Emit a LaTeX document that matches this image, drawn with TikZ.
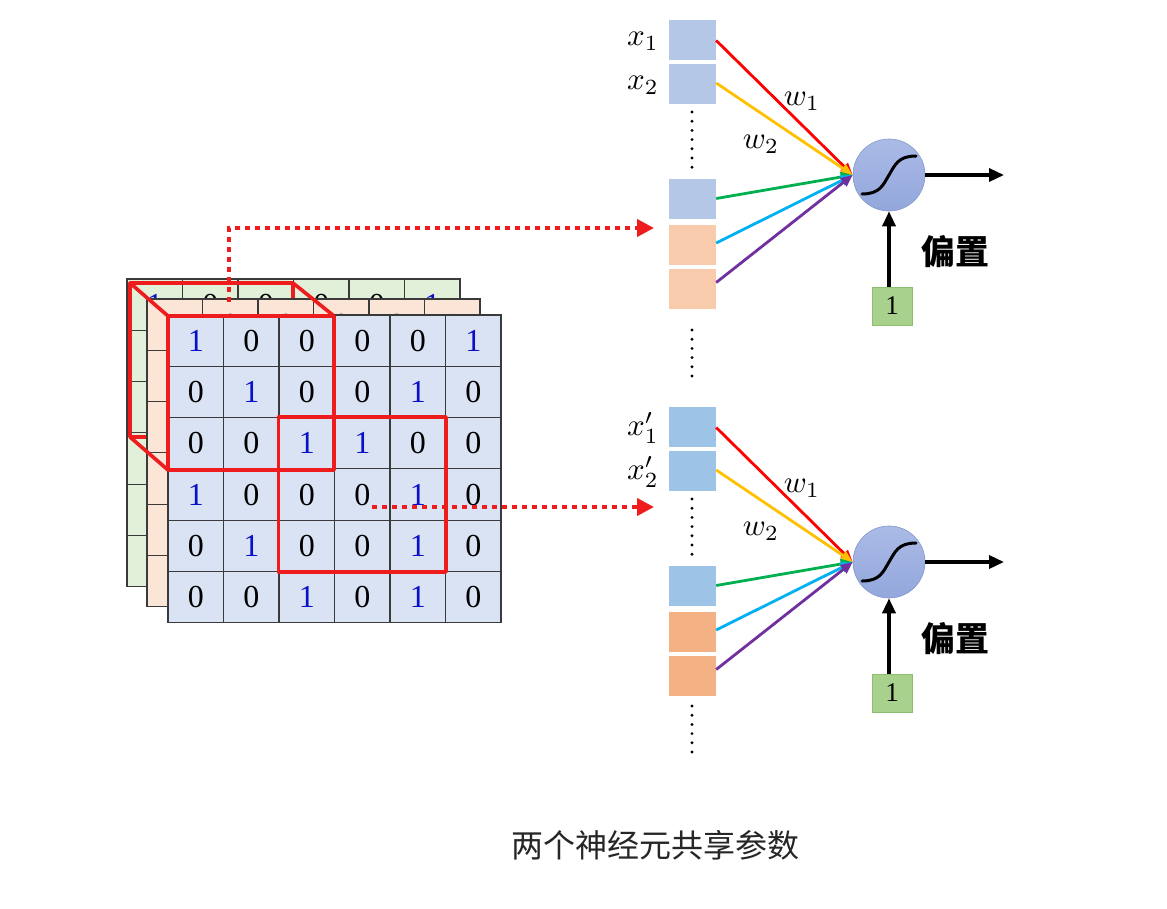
\documentclass[tikz,border=0pt]{standalone}
\usepackage{graphicx}
\usepackage[no-math]{fontspec}
\setmainfont{Liberation Serif}
\newfontfamily\cjk{Noto Sans CJK SC}
\usetikzlibrary{arrows.meta,calc}
\definecolor{gfront}{HTML}{DAE3F3}
\definecolor{gorange}{HTML}{FBE5D6}
\definecolor{ggreen}{HTML}{E2F0D9}
\definecolor{gline}{HTML}{3A3A3A}
\definecolor{dblue}{HTML}{0A10C8}
\definecolor{redline}{HTML}{EE1C1C}
\definecolor{boxblueA}{HTML}{B4C7E7}
\definecolor{boxorangeA}{HTML}{F8CBAD}
\definecolor{boxblueB}{HTML}{9DC3E6}
\definecolor{boxorangeB}{HTML}{F4B183}
\definecolor{cred}{HTML}{FF0000}
\definecolor{cyellow}{HTML}{FFC000}
\definecolor{cgreen}{HTML}{00B050}
\definecolor{ccyan}{HTML}{00B0F0}
\definecolor{cpurple}{HTML}{7030A0}
\definecolor{biasfill}{HTML}{A9D18E}
\definecolor{biasline}{HTML}{8DBE6E}
\definecolor{ntop}{HTML}{ABBBE7}
\definecolor{nbot}{HTML}{93A7DC}
\definecolor{nline}{HTML}{8396CC}
\definecolor{captxt}{HTML}{262626}
\newcommand\dg[1]{\ifnum#1=1 \textcolor{dblue}{1}\else 0\fi}
\newcommand\lbl[1]{\scalebox{3.1}{$#1$}}
\newcommand\gridlayer[4]{%
  \foreach \row [count=\i from 0] in {{1,0,0,0,0,1},{0,1,0,0,1,0},{0,0,1,1,0,0},{1,0,0,0,1,0},{0,1,0,0,1,0},{0,0,1,0,1,0}}{%
    \foreach \v [count=\j from 0] in \row {%
      \node[cell, fill=#4] (#1-\i-\j) at ({#2+\j*55.5+27.75},{#3+\i*51.3+25.65}) {\dg{\v}};
    }
  }%
}
\newcommand\neurongroup[5]{% #1 name, #2 y offset, #3 blue, #4 orange, #5 prime
  \begin{scope}[yshift={-#2pt}]
    \node[inbox, fill=#3] (#1a) at (692.5,39.5) {};
    \node[inbox, fill=#3] (#1b) at (692.5,84) {};
    \node[inbox, fill=#3] (#1c) at (692.5,198.5) {};
    \node[inbox, fill=#4] (#1d) at (692.5,245) {};
    \node[inbox, fill=#4] (#1e) at (692.5,288.5) {};
    \coordinate (#1p) at (692,112);
    \coordinate (#1q) at (692,169);
    \draw[vdots] (#1p) -- (#1q);
    \node[lab] (#1xa) at (643,41) {\lbl{x#5_1}};
    \node[lab] (#1xb) at (643,85) {\lbl{x#5_2}};
    \node[neuron] (#1n) at (889,175) {};
    \draw[line width=3, line cap=round] ($(#1n)+(-27,19)$) .. controls ($(#1n)+(-9,19)$) and ($(#1n)+(-6,10)$) .. ($(#1n)+(0,0)$) .. controls ($(#1n)+(6,-10)$) and ($(#1n)+(9,-19)$) .. ($(#1n)+(27,-19)$);
    \draw[wire, cred] ($(#1a.east)+(0,1)$) -- (#1n.west);
    \draw[wire, cyellow] ($(#1b.east)+(0,-1)$) -- (#1n.west);
    \draw[wire, cgreen] (#1c.east) -- (#1n.west);
    \draw[wire, ccyan] ($(#1d.east)+(0,-2)$) -- (#1n.west);
    \draw[wire, cpurple] ($(#1e.east)+(0,-6)$) -- (#1n.west);
    \node[lab] (#1wa) at (802,101) {\lbl{w_1}};
    \node[lab] (#1wb) at (761,144) {\lbl{w_2}};
    \node[bias] (#1one) at (892,306) {1};
    \draw[blk] (#1n.south |- #1one.north) -- (#1n.south);
    \coordinate (#1out) at (1004,175);
    \draw[blk] (#1n.east) -- (#1out);
    \node[pz] (#1pz) at (955,252) {偏置};
  \end{scope}
}
\begin{document}
\begin{tikzpicture}[x=1pt,y=-1pt,
  cell/.style={draw=gline, line width=1.1pt, minimum width=55.5pt, minimum height=51.3pt, inner sep=0pt, font=\fontsize{32}{32}\selectfont},
  redbox/.style={draw=redline, line width=3.6pt, line join=round},
  reddot/.style={draw=redline, line width=4pt, dash pattern=on 5pt off 5pt, -{Triangle[length=17pt,width=17pt,fill=redline]}},
  inbox/.style={minimum width=47pt, minimum height=40pt, inner sep=0pt},
  vdots/.style={line width=3.2pt, line cap=round, dash pattern=on 0pt off 9.2pt},
  lab/.style={inner sep=0pt},
  neuron/.style={circle, minimum size=72pt, inner sep=0pt, top color=ntop, bottom color=nbot, draw=nline, line width=0.6pt},
  wire/.style={line width=2.8pt, -{Triangle[length=12pt,width=10pt]}},
  blk/.style={line width=3.4pt, -{Triangle[length=15pt,width=13pt]}},
  bias/.style={fill=biasfill, draw=biasline, line width=0.6pt, minimum width=40pt, minimum height=38pt, inner sep=0pt, font=\fontsize{27}{27}\selectfont},
  pz/.style={font=\cjk\bfseries\fontsize{34}{34}\selectfont, inner sep=0pt}
]
\fill[white] (0,0) rectangle (1167,908);
\useasboundingbox (0,0) rectangle (1167,908);

% red cube corners
\coordinate (bTL) at (130,283);
\coordinate (bTR) at (293,283);
\coordinate (bBL) at (130,437);
\coordinate (bBR) at (293,437);
\coordinate (fTL) at (168,316);
\coordinate (fTR) at (334,316);
\coordinate (fBL) at (168,470);
\coordinate (fBR) at (334,470);
% back layers
\gridlayer{g}{127}{279}{ggreen}
\draw[redbox] (bTL) -- (bTR) -- (bBR) -- (bBL) -- cycle;
\gridlayer{o}{147}{299}{gorange}
\draw[redbox] (bTL) -- (fTL);
\draw[redbox] (bTR) -- (fTR);
\draw[redbox] (bBL) -- (fBL);
% front layer
\gridlayer{f}{168}{315}{gfront}
\draw[redbox] (fTL) -- (fTR) -- (fBR) -- (fBL) -- cycle;
\draw[redbox] (f-2-2.north west) rectangle (f-4-4.south east);

% neuron groups
\neurongroup{A}{0}{boxblueA}{boxorangeA}{}
\neurongroup{B}{387}{boxblueB}{boxorangeB}{'}
\coordinate (d1s) at (692,330);
\coordinate (d1e) at (692,382);
\draw[vdots] (d1s) -- (d1e);
\coordinate (d2s) at (692,706);
\coordinate (d2e) at (692,760);
\draw[vdots] (d2s) -- (d2e);

% red dotted arrows
\coordinate (s1) at (229,302);
\coordinate (k1) at (229,228);
\coordinate (t1) at (654,228);
\draw[reddot] (s1) -- (k1) -- (t1);
\coordinate (s2) at (372,507);
\coordinate (t2) at (654,507);
\draw[reddot] (s2) -- (t2);

\node[font=\cjk\fontsize{32}{32}\selectfont, text=captxt, inner sep=0pt] (cap) at (655,845) {两个神经元共享参数};
\end{tikzpicture}
\end{document}
